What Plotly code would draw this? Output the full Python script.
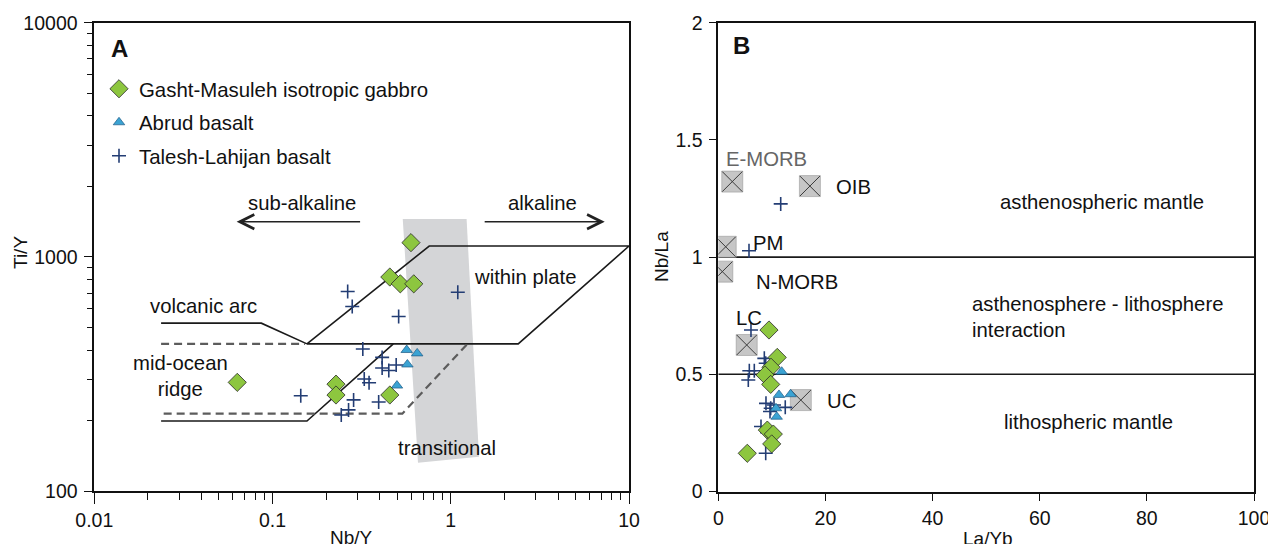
import math
import plotly.graph_objects as go

FONT = "Arial, Liberation Sans, sans-serif"

# ---------------- Panel A data (Nb/Y vs Ti/Y) ----------------
gabbro_A_x = [0.598, 0.455, 0.521, 0.620, 0.0634, 0.227, 0.227, 0.455]
gabbro_A_y = [1150, 820, 767, 767, 291, 286, 257, 257]

abrud_A_x = [0.566, 0.648, 0.571, 0.499]
abrud_A_y = [400, 387, 347, 282]

talesh_A_x = [0.264, 0.280, 0.510, 1.095, 0.321, 0.412, 0.412, 0.494, 0.449,
              0.327, 0.348, 0.144, 0.285, 0.394, 0.267, 0.243]
talesh_A_y = [711, 614, 556, 706, 404, 372, 335, 345, 327,
              301, 290, 255, 245, 240, 222, 211]

# field boundaries (Nb/Y, Ti/Y)
within_plate_x = [0.156, 0.757, 10, 2.39, 0.156]
within_plate_y = [425, 1112, 1112, 425, 425]
volcanic_arc_x = [0.0237, 0.0865, 0.156]
volcanic_arc_y = [521, 521, 425]
morb_solid_x = [0.0237, 0.156, 0.476]
morb_solid_y = [199, 199, 425]
dash_upper_x = [0.0237, 0.152]
dash_upper_y = [425, 425]
dash_lower_x = [0.0245, 0.535, 1.24]
dash_lower_y = [214, 214, 425]
band_x = [0.538, 1.227, 1.44, 0.655, 0.538]
band_y = [1452, 1452, 140, 132, 1452]

# ---------------- Panel B data (La/Yb vs Nb/La) ----------------
gabbro_B_x = [9.46, 11.0, 9.84, 8.72, 9.78, 9.15, 10.27, 9.97, 5.41]
gabbro_B_y = [0.689, 0.572, 0.530, 0.497, 0.457, 0.262, 0.245, 0.203, 0.163]

abrud_B_x = [11.83, 11.33, 13.5, 10.77, 10.9]
abrud_B_y = [0.511, 0.412, 0.415, 0.355, 0.319]

talesh_B_x = [11.65, 5.73, 6.1, 8.59, 8.85, 5.79, 6.72, 5.6, 8.9, 10.4,
              12.5, 9.78, 9.65, 7.97, 8.85]
talesh_B_y = [1.227, 1.027, 0.689, 0.568, 0.547, 0.515, 0.515, 0.476, 0.376,
              0.369, 0.359, 0.355, 0.341, 0.277, 0.163]

ref_names = ["E-MORB", "OIB", "PM", "N-MORB", "LC", "UC"]
ref_x = [2.61, 17.1, 1.38, 0.75, 5.3, 15.4]
ref_y = [1.322, 1.303, 1.044, 0.938, 0.625, 0.39]
ref_label_x = [9.0, 25.2, 9.3, 14.6, 5.8, 23.0]
ref_label_y = [1.42, 1.30, 1.061, 0.895, 0.739, 0.387]

boundary_B = [1.0, 0.5]

# ---------------- Styles ----------------
GREEN = "#8DC63F"
BLUE_TRI = "#3BA3D3"
NAVY = "#233D74"
LINE = "#1a1a1a"
DASH = "#5c5c5c"
W, H = 1268, 544

fig = go.Figure()

# gray transitional band
fig.add_trace(go.Scatter(x=band_x, y=band_y, mode="lines", fill="toself",
                         fillcolor="#d4d5d7", line=dict(width=0),
                         showlegend=False, hoverinfo="skip", xaxis="x", yaxis="y"))
for xs, ys in [(within_plate_x, within_plate_y), (volcanic_arc_x, volcanic_arc_y),
               (morb_solid_x, morb_solid_y)]:
    fig.add_trace(go.Scatter(x=xs, y=ys, mode="lines", line=dict(color=LINE, width=1.6),
                             showlegend=False, hoverinfo="skip", xaxis="x", yaxis="y"))
for xs, ys in [(dash_upper_x, dash_upper_y), (dash_lower_x, dash_lower_y)]:
    fig.add_trace(go.Scatter(x=xs, y=ys, mode="lines",
                             line=dict(color=DASH, width=2.2, dash="8px,5px"),
                             showlegend=False, hoverinfo="skip", xaxis="x", yaxis="y"))

# Panel B boundary lines
for b in boundary_B:
    fig.add_trace(go.Scatter(x=[0, 100], y=[b, b], mode="lines",
                             line=dict(color=LINE, width=1.6),
                             showlegend=False, hoverinfo="skip", xaxis="x2", yaxis="y2"))

# reference compositions
fig.add_trace(go.Scatter(x=ref_x, y=ref_y, mode="markers",
                         marker=dict(symbol="square", size=21, color="#c6c6c6",
                                     line=dict(width=0.6, color="#9a9a9a")),
                         showlegend=False, hoverinfo="skip", xaxis="x2", yaxis="y2"))
fig.add_trace(go.Scatter(x=ref_x, y=ref_y, mode="markers",
                         marker=dict(symbol="x-thin", size=20,
                                     line=dict(width=1, color="#3a3a3a")),
                         showlegend=False, hoverinfo="skip", xaxis="x2", yaxis="y2"))

cross_m = dict(symbol="cross-thin", size=10, line=dict(width=1.6, color=NAVY), color=NAVY)
tri_m = dict(symbol="triangle-up", size=10, color=BLUE_TRI, line=dict(width=0.7, color="#1e5a85"))
dia_m = dict(symbol="diamond", size=14, color=GREEN, line=dict(width=0.8, color="#2a2a2a"))

# Panel A samples
fig.add_trace(go.Scatter(x=talesh_A_x, y=talesh_A_y, mode="markers", marker=cross_m,
                         name="Talesh-Lahijan basalt", legendrank=3, legendgroup="c",
                         xaxis="x", yaxis="y"))
fig.add_trace(go.Scatter(x=abrud_A_x, y=abrud_A_y, mode="markers", marker=tri_m,
                         name="Abrud basalt", legendrank=2, legendgroup="b",
                         xaxis="x", yaxis="y"))
fig.add_trace(go.Scatter(x=gabbro_A_x, y=gabbro_A_y, mode="markers", marker=dia_m,
                         name="Gasht-Masuleh isotropic gabbro", legendrank=1, legendgroup="a",
                         xaxis="x", yaxis="y"))
# Panel B samples
fig.add_trace(go.Scatter(x=talesh_B_x, y=talesh_B_y, mode="markers", marker=cross_m,
                         showlegend=False, xaxis="x2", yaxis="y2"))
fig.add_trace(go.Scatter(x=abrud_B_x, y=abrud_B_y, mode="markers", marker=tri_m,
                         showlegend=False, xaxis="x2", yaxis="y2"))
fig.add_trace(go.Scatter(x=gabbro_B_x, y=gabbro_B_y, mode="markers", marker=dia_m,
                         showlegend=False, xaxis="x2", yaxis="y2"))

lg = math.log10
ann = []
TXT = dict(family=FONT, size=20.3, color="#111")
# Panel A labels (log axes -> log10 coords)
for t, x, y in [("sub-alkaline", 0.146, 1700), ("alkaline", 3.25, 1700),
                ("within plate", 2.62, 822), ("volcanic arc", 0.0412, 616),
                ("mid-ocean<br>ridge", 0.0306, 310), ("transitional", 0.955, 153)]:
    ann.append(dict(text=t, x=lg(x), y=lg(y), xref="x", yref="y", showarrow=False,
                    font=TXT, align="center", xanchor="center", yanchor="middle"))
# arrows
for head, tail, yv in [(0.0629, 0.316, 1412), (7.31, 1.52, 1412)]:
    ann.append(dict(text="", x=lg(head), y=lg(yv), ax=lg(tail), ay=lg(yv),
                    xref="x", yref="y", axref="x", ayref="y", showarrow=True,
                    arrowhead=5, arrowsize=1.9, arrowwidth=1.5, arrowcolor="#222"))
# Panel B labels
for t, x, y in zip(ref_names, ref_label_x, ref_label_y):
    ann.append(dict(text=t, x=x, y=y, xref="x2", yref="y2", showarrow=False,
                    xanchor="center", yanchor="middle",
                    font=dict(family=FONT, size=20.3, color="#666" if t == "E-MORB" else "#111")))
ann.append(dict(text="asthenospheric mantle", x=71.6, y=1.236, xref="x2", yref="y2",
                showarrow=False, font=TXT, xanchor="center", yanchor="middle"))
ann.append(dict(text="asthenosphere - lithosphere<br>interaction", x=47.0, y=0.745,
                xref="x2", yref="y2", showarrow=False, font=TXT, align="left",
                xanchor="left", yanchor="middle"))
ann.append(dict(text="lithospheric mantle", x=69.1, y=0.298, xref="x2", yref="y2",
                showarrow=False, font=TXT, xanchor="center", yanchor="middle"))
# panel letters
ann.append(dict(text="<b>A</b>", x=109 / W, y=1 - 48 / H, xref="paper", yref="paper",
                xanchor="left", yanchor="middle", showarrow=False,
                font=dict(family=FONT, size=24, color="#111")))
ann.append(dict(text="<b>B</b>", x=731 / W, y=1 - 45 / H, xref="paper", yref="paper",
                xanchor="left", yanchor="middle", showarrow=False,
                font=dict(family=FONT, size=24, color="#111")))
# axis titles
AX = dict(family=FONT, size=19, color="#111")
for t, px, py, ang in [("Nb/Y", 351, 537, 0), ("La/Yb", 988, 538, 0),
                       ("Ti/Y", 20, 253, -90), ("Nb/La", 661, 257, -90)]:
    ann.append(dict(text=t, x=px / W, y=1 - py / H, xref="paper", yref="paper",
                    xanchor="center", yanchor="middle", showarrow=False, font=AX,
                    textangle=ang))

minor_log = [m * 10 ** e for e in range(-2, 4) for m in range(2, 10)]
TICKF = dict(family=FONT, size=19.5, color="#111")
common = dict(showline=True, linecolor="#111", linewidth=1.6, mirror=True, showgrid=False,
              zeroline=False, ticks="outside", tickcolor="#111", tickwidth=1.4,
              tickfont=TICKF, automargin=False, ticklabeloverflow="allow")

fig.update_layout(
    width=W, height=H, margin=dict(l=0, r=0, t=0, b=0, autoexpand=False),
    paper_bgcolor="white", plot_bgcolor="white",
    font=dict(family=FONT),
    xaxis=dict(domain=[94.3 / W, 629 / W], type="log", range=[-2, 1], anchor="y",
               tickvals=[0.01, 0.1, 1, 10], ticktext=["0.01", "0.1", "1", "10"], ticklen=11,
               minor=dict(tickvals=minor_log, ticks="outside", ticklen=7,
                          tickcolor="#111", tickwidth=1.4, showgrid=False), **common),
    yaxis=dict(domain=[1 - 491 / H, 1 - 22.7 / H], type="log", range=[2, 4], anchor="x",
               tickvals=[100, 1000, 10000], ticktext=["100", "1000", "10000"], ticklen=9,
               ticklabelstandoff=2,
               minor=dict(tickvals=minor_log, ticks="outside", ticklen=6,
                          tickcolor="#111", tickwidth=1.4, showgrid=False), **common),
    xaxis2=dict(domain=[718.3 / W, 1254 / W], range=[0, 100], anchor="y2",
                tickvals=[0, 20, 40, 60, 80, 100], ticklen=8, **common),
    yaxis2=dict(domain=[1 - 491.5 / H, 1 - 22.7 / H], range=[0, 2], anchor="x2",
                tickvals=[0, 0.5, 1, 1.5, 2], ticktext=["0", "0.5", "1", "1.5", "2"],
                ticklen=8, ticklabelstandoff=2, **common),
    legend=dict(x=99 / W, y=1 - 69 / H, xanchor="left", yanchor="top",
                font=dict(family=FONT, size=20.4, color="#111"), bgcolor="rgba(0,0,0,0)",
                tracegroupgap=4, itemwidth=30),
    annotations=ann,
    showlegend=True,
)

fig.write_html("out.html")
